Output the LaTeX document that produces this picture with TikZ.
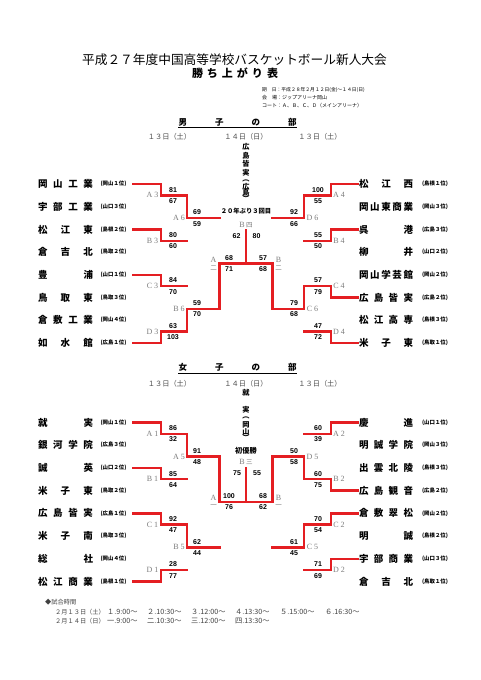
\documentclass[tikz,border=0pt]{standalone}
\usepackage{fontspec}
\newfontfamily\jp{Noto Sans CJK JP}
\newfontfamily\ls{Liberation Sans}
\newfontfamily\lser{Liberation Serif}
\usetikzlibrary{calc}
\pgfdeclarelayer{bg}
\pgfsetlayers{bg,main}
\definecolor{wred}{RGB}{228,30,34}
\definecolor{sepgray}{RGB}{195,195,195}
\definecolor{labgray}{RGB}{125,125,125}
\newcommand\fsz[1]{\fontsize{#1}{#1}\selectfont}
\tikzset{
  blk/.style={draw=black!75, line width=0.75pt},
  win/.style={draw=wred, line width=2.4pt, line cap=rect},
  sepline/.style={draw=sepgray, line width=0.8pt},
  team/.style={font=\jp\bfseries\fsz{9.5}, inner sep=0pt},
  aff/.style={font=\jp\bfseries\fsz{5.4}, inner sep=0pt},
  score/.style={font=\ls\bfseries\fsz{7}, inner sep=0pt},
  lab/.style={font=\lser\fsz{8}, text=labgray, inner sep=0pt},
  labj/.style={font=\jp\fsz{6.5}, text=labgray, inner sep=0pt},
  champ/.style={font=\jp\bfseries\fsz{7.2}, inner sep=0pt},
  datet/.style={font=\jp\fsz{7.2}, text=black!70, inner sep=0pt},
  head/.style={font=\jp\bfseries\fsz{8.5}, inner sep=0pt},
  foot/.style={font=\jp\fsz{6.2}, text=black!75, inner sep=0pt, anchor=west},
  foote/.style={font=\jp\fsz{7.2}, text=black!75, inner sep=0pt, anchor=west},
}
\newcommand\teamL[4]{%
  \node[team] (#1) at (65.5,#2) {\makebox[55pt]{#3}};
  \node[aff] (#1a) at (113.5,#2) {#4};
  \coordinate (#1e) at (133,#2);}
\newcommand\teamR[4]{%
  \node[team] (#1) at (386,#2) {\makebox[54pt]{#3}};
  \node[aff] (#1a) at (435,#2) {#4};
  \coordinate (#1e) at (358,#2);}
\newcommand\match[7]{%
  \coordinate (#1x) at (#4,0);
  \coordinate (#1ox) at (#5,0);
  \coordinate (#1t) at (#2 -| #1x);
  \coordinate (#1b) at (#3 -| #1x);
  \coordinate (#1m) at ($(#1t)!0.5!(#1b)$);
  \coordinate (#1o) at (#1m -| #1ox);
  \begin{pgfonlayer}{bg}
  \draw[blk] (#2) -- (#1t) -- (#1b) -- (#3);
  \end{pgfonlayer}
  \draw[win] (#6) -- (#1#7) -- (#1m) -- (#1o);}
\newcommand\scores[4]{%
  \coordinate (#1sx) at (#2,0);
  \node[score] (#1sa) at ($(#1m -| #1sx)+(0,-5.6)$) {#3};
  \node[score] (#1sb) at ($(#1m -| #1sx)+(0,5.6)$) {#4};}
\newcommand\lab[3]{%
  \coordinate (#1lx) at (#2,0);
  \node[lab] (#1l) at (#1m -| #1lx) {#3};}
\newcommand\semilab[4]{%
  \coordinate (#1lx) at (#2,0);
  \node[lab] (#1l) at ($(#1m -| #1lx)+(0,-4)$) {#3};
  \node[labj] (#1k) at ($(#1m -| #1lx)+(0,4.5)$) {#4};}
\begin{document}
\begin{tikzpicture}[x=1pt,y=-1pt]
\useasboundingbox (0,0) rectangle (481,680);
\fill[white] (0,0) rectangle (481,680);
% ---------- title ----------
\node[font=\jp\fsz{12.7}, inner sep=0pt] (title) at (234.5,60) {平成２７年度中国高等学校バスケットボール新人大会};
\node[font=\jp\bfseries\fsz{11}, inner sep=0pt] (subtitle) at (235,73) {\makebox[86pt]{勝\hfill ち\hfill 上\hfill が\hfill り\hfill 表}};
\node[font=\jp\fsz{4.8}, inner sep=0pt, anchor=west] (info1) at (262,90) {期　日：平成２８年２月１２日(金)～１４日(日)};
\node[font=\jp\fsz{5}, inner sep=0pt, anchor=west] (info2) at (262,98) {会　場：ジップアリーナ岡山};
\node[font=\jp\fsz{5}, inner sep=0pt, anchor=west] (info3) at (262,106) {コート：Ａ、Ｂ、Ｃ、Ｄ（メインアリーナ）};
% ---------- men header ----------
\node[head] (mhead) at (237.5,122.5) {\makebox[118pt]{男\hfill 子\hfill の\hfill 部}};
\coordinate (mhu1) at (178,127.5); \coordinate (mhu2) at (297,127.5);
\draw[line width=0.6pt] (mhu1) -- (mhu2);
\node[datet] (md1) at (169.5,136.5) {１３日（土）};
\node[datet] (md2) at (246,136.5) {１４日（日）};
\node[datet] (md3) at (320,136.5) {１３日（土）};
\coordinate (ms1a) at (207,130); \coordinate (ms1b) at (207,357);
\coordinate (ms2a) at (283.5,130); \coordinate (ms2b) at (283.5,357);
\begin{pgfonlayer}{bg}
\draw[sepline] (ms1a) -- (ms1b); \draw[sepline] (ms2a) -- (ms2b);
\end{pgfonlayer}
% men teams
\teamL{ml1}{184}{岡\hfill 山\hfill 工\hfill 業}{(岡山１位)}
\teamL{ml2}{206.7}{宇\hfill 部\hfill 工\hfill 業}{(山口３位)}
\teamL{ml3}{229.4}{松\hfill 江\hfill 東}{(島根２位)}
\teamL{ml4}{252.1}{倉\hfill 吉\hfill 北}{(鳥取２位)}
\teamL{ml5}{274.8}{豊\hfill 浦}{(山口１位)}
\teamL{ml6}{297.5}{鳥\hfill 取\hfill 東}{(鳥取３位)}
\teamL{ml7}{320.2}{倉\hfill 敷\hfill 工\hfill 業}{(岡山４位)}
\teamL{ml8}{342.9}{如\hfill 水\hfill 館}{(広島１位)}
\teamR{mr1}{184}{松\hfill 江\hfill 西}{(島根１位)}
\teamR{mr2}{206.7}{岡\hfill 山\hfill 東\hfill 商\hfill 業}{(岡山３位)}
\teamR{mr3}{229.4}{呉\hfill 港}{(広島３位)}
\teamR{mr4}{252.1}{柳\hfill 井}{(山口２位)}
\teamR{mr5}{274.8}{岡\hfill 山\hfill 学\hfill 芸\hfill 館}{(岡山２位)}
\teamR{mr6}{297.5}{広\hfill 島\hfill 皆\hfill 実}{(広島２位)}
\teamR{mr7}{320.2}{松\hfill 江\hfill 高\hfill 専}{(島根３位)}
\teamR{mr8}{342.9}{米\hfill 子\hfill 東}{(鳥取１位)}
% men matches left
\match{mA3}{ml1e}{ml2e}{161}{187}{ml1e}{t}
\match{mB3}{ml3e}{ml4e}{161}{187}{ml3e}{t}
\match{mC3}{ml5e}{ml6e}{161}{187}{ml5e}{t}
\match{mD3}{ml7e}{ml8e}{161}{187}{ml8e}{b}
\match{mA6}{mA3o}{mB3o}{187}{219.5}{mA3o}{t}
\match{mB6}{mC3o}{mD3o}{187}{219.5}{mD3o}{b}
\match{mAn}{mA6o}{mB6o}{219.5}{246}{mB6o}{b}
% men matches right
\match{mA4}{mr1e}{mr2e}{331}{304}{mr1e}{t}
\match{mB4}{mr3e}{mr4e}{331}{304}{mr3e}{t}
\match{mC4}{mr5e}{mr6e}{331}{304}{mr6e}{b}
\match{mD4}{mr7e}{mr8e}{331}{304}{mr8e}{b}
\match{mD6}{mA4o}{mB4o}{304}{272.5}{mA4o}{t}
\match{mC6}{mC4o}{mD4o}{304}{272.5}{mC4o}{t}
\match{mBn}{mD6o}{mC6o}{272.5}{246}{mC6o}{b}
\coordinate (mfin) at (246,230);
\draw[win] (mAno) -- (mfin);
% men scores
\scores{mA3}{173}{81}{67} \scores{mB3}{173}{80}{60}
\scores{mC3}{173}{84}{70} \scores{mD3}{173}{63}{103}
\scores{mA6}{197}{69}{59} \scores{mB6}{197}{59}{70}
\scores{mAn}{229}{68}{71}
\scores{mA4}{318}{100}{55} \scores{mB4}{318}{55}{50}
\scores{mC4}{318}{57}{79} \scores{mD4}{318}{47}{72}
\scores{mD6}{294}{92}{66} \scores{mC6}{294}{79}{68}
\scores{mBn}{263}{57}{68}
\node[score] (mf1) at (236.5,236) {62};
\node[score] (mf2) at (256.5,236) {80};
% men labels
\lab{mA3}{152.5}{A 3} \lab{mB3}{152.5}{B 3} \lab{mC3}{152.5}{C 3} \lab{mD3}{152.5}{D 3}
\lab{mA6}{179}{A 6} \lab{mB6}{179}{B 6}
\lab{mA4}{339}{A 4} \lab{mB4}{339}{B 4} \lab{mC4}{339}{C 4} \lab{mD4}{339}{D 4}
\lab{mD6}{312.5}{D 6} \lab{mC6}{312.5}{C 6}
\semilab{mAn}{213.5}{A}{二}
\semilab{mBn}{278.5}{B}{二}
\node[lab] (mfl) at (246,225) {B\,{\jp\fsz{6.5}四}};
\node[champ, font=\jp\bfseries\fsz{6.3}] (mnote) at (246,211) {２０年ぶり３回目};
\foreach \c/\yy [count=\i] in {広/147,島/155.5,皆/164,実/172.5,︵/180.5,広/186.5,島/193,︶/198.5}
  \node[champ] (mc\i) at (246,\yy) {\c};
% ---------- women header ----------
\node[head] (whead) at (237.5,367.5) {\makebox[118pt]{女\hfill 子\hfill の\hfill 部}};
\coordinate (whu1) at (178,373); \coordinate (whu2) at (297,373);
\draw[line width=0.6pt] (whu1) -- (whu2);
\node[datet] (wd1) at (169.5,384) {１３日（土）};
\node[datet] (wd2) at (246,384) {１４日（日）};
\node[datet] (wd3) at (320,384) {１３日（土）};
\coordinate (ws1a) at (207,377); \coordinate (ws1b) at (207,599);
\coordinate (ws2a) at (283.5,377); \coordinate (ws2b) at (283.5,599);
\begin{pgfonlayer}{bg}
\draw[sepline] (ws1a) -- (ws1b); \draw[sepline] (ws2a) -- (ws2b);
\end{pgfonlayer}
\teamL{wl1}{422.5}{就\hfill 実}{(岡山１位)}
\teamL{wl2}{445.2}{銀\hfill 河\hfill 学\hfill 院}{(広島３位)}
\teamL{wl3}{467.9}{誠\hfill 英}{(山口２位)}
\teamL{wl4}{490.6}{米\hfill 子\hfill 東}{(鳥取２位)}
\teamL{wl5}{513.3}{広\hfill 島\hfill 皆\hfill 実}{(広島１位)}
\teamL{wl6}{536}{米\hfill 子\hfill 南}{(鳥取３位)}
\teamL{wl7}{558.7}{総\hfill 社}{(岡山４位)}
\teamL{wl8}{581.4}{松\hfill 江\hfill 商\hfill 業}{(島根１位)}
\teamR{wr1}{422.5}{慶\hfill 進}{(山口１位)}
\teamR{wr2}{445.2}{明\hfill 誠\hfill 学\hfill 院}{(岡山３位)}
\teamR{wr3}{467.9}{出\hfill 雲\hfill 北\hfill 陵}{(島根３位)}
\teamR{wr4}{490.6}{広\hfill 島\hfill 観\hfill 音}{(広島２位)}
\teamR{wr5}{513.3}{倉\hfill 敷\hfill 翠\hfill 松}{(岡山２位)}
\teamR{wr6}{536}{明\hfill 誠}{(島根２位)}
\teamR{wr7}{558.7}{宇\hfill 部\hfill 商\hfill 業}{(山口３位)}
\teamR{wr8}{581.4}{倉\hfill 吉\hfill 北}{(鳥取１位)}
\match{wA1}{wl1e}{wl2e}{161}{187}{wl1e}{t}
\match{wB1}{wl3e}{wl4e}{161}{187}{wl3e}{t}
\match{wC1}{wl5e}{wl6e}{161}{187}{wl5e}{t}
\match{wD1}{wl7e}{wl8e}{161}{187}{wl8e}{b}
\match{wA5}{wA1o}{wB1o}{187}{219.5}{wA1o}{t}
\match{wB5}{wC1o}{wD1o}{187}{219.5}{wC1o}{t}
\match{wAn}{wA5o}{wB5o}{219.5}{246}{wA5o}{t}
\match{wA2}{wr1e}{wr2e}{331}{304}{wr1e}{t}
\match{wB2}{wr3e}{wr4e}{331}{304}{wr4e}{b}
\match{wC2}{wr5e}{wr6e}{331}{304}{wr5e}{t}
\match{wD2}{wr7e}{wr8e}{331}{304}{wr7e}{t}
\match{wD5}{wA2o}{wB2o}{304}{272.5}{wB2o}{b}
\match{wC5}{wC2o}{wD2o}{304}{272.5}{wC2o}{t}
\match{wBn}{wD5o}{wC5o}{272.5}{246}{wD5o}{t}
\coordinate (wfin) at (246,468);
\draw[win] (wAno) -- (wfin);
\scores{wA1}{173}{86}{32} \scores{wB1}{173}{85}{64}
\scores{wC1}{173}{92}{47} \scores{wD1}{173}{28}{77}
\scores{wA5}{197}{91}{48} \scores{wB5}{197}{62}{44}
\scores{wAn}{229}{100}{76}
\scores{wA2}{318}{60}{39} \scores{wB2}{318}{60}{75}
\scores{wC2}{318}{70}{54} \scores{wD2}{318}{71}{69}
\scores{wD5}{294}{50}{58} \scores{wC5}{294}{61}{45}
\scores{wBn}{263}{68}{62}
\node[score] (wf1) at (237,473) {75};
\node[score] (wf2) at (257,473) {55};
\lab{wA1}{152.5}{A 1} \lab{wB1}{152.5}{B 1} \lab{wC1}{152.5}{C 1} \lab{wD1}{152.5}{D 1}
\lab{wA5}{179}{A 5} \lab{wB5}{179}{B 5}
\lab{wA2}{339}{A 2} \lab{wB2}{339}{B 2} \lab{wC2}{339}{C 2} \lab{wD2}{339}{D 2}
\lab{wD5}{312.5}{D 5} \lab{wC5}{312.5}{C 5}
\semilab{wAn}{213.5}{A}{一}
\semilab{wBn}{278.5}{B}{一}
\node[lab] (wfl) at (246,462) {B\,{\jp\fsz{6.5}三}};
\node[champ] (wnote) at (246,451) {初優勝};
\foreach \c/\yy [count=\i] in {就/393,実/410,︵/418,岡/424.5,山/432,︶/437.5}
  \node[champ] (wc\i) at (246,\yy) {\c};
% ---------- footer ----------
\node[foot] (f0) at (45,602) {◆試合時間};
\node[foot] (f1) at (55,612) {２月１３日（土）};
\node[foote] (f1a) at (107,612) {１.9:00～};
\node[foote] (f1b) at (147,612) {２.10:30～};
\node[foote] (f1c) at (191,612) {３.12:00～};
\node[foote] (f1d) at (235,612) {４.13:30～};
\node[foote] (f1e) at (280,612) {５.15:00～};
\node[foote] (f1f) at (325,612) {６.16:30～};
\node[foot] (f2) at (55,621) {２月１４日（日）};
\node[foote] (f2a) at (107,621) {一.9:00～};
\node[foote] (f2b) at (147,621) {二.10:30～};
\node[foote] (f2c) at (191,621) {三.12:00～};
\node[foote] (f2d) at (235,621) {四.13:30～};
\end{tikzpicture}
\end{document}
